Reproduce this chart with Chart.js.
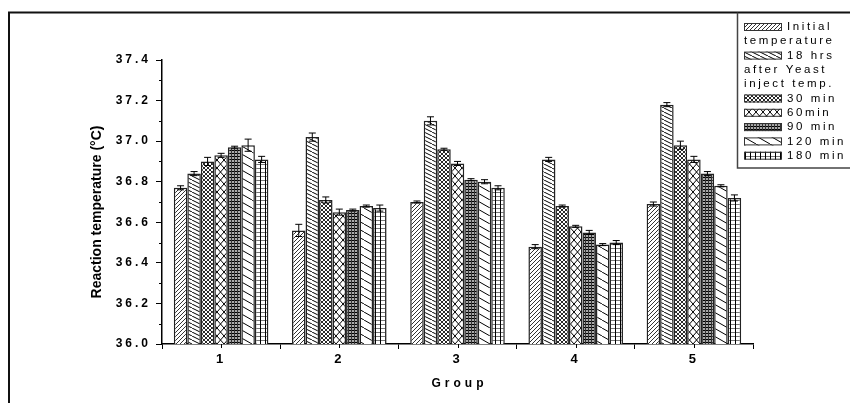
<!DOCTYPE html>
<html>
<head>
    <title>Reaction temperature by group</title>
    <script src="https://cdn.jsdelivr.net/npm/chart.js"></script>
    <style>
        body {
            margin: 0;
            background-color: #fff;
        }
        #wrap {
            width: 850px;
            height: 403px;
        }
    </style>
</head>
<body>
    <div id="wrap"><canvas id="myChart" width="850" height="403"></canvas></div>

    <script>
        // Data
        const groups = ['1', '2', '3', '4', '5'];
        const initialTemp = [36.77, 36.56, 36.70, 36.48, 36.69];
        const after18hrs  = [36.84, 37.02, 37.10, 36.91, 37.18];
        const min30  = [36.90, 36.71, 36.96, 36.68, 36.98];
        const min60  = [36.93, 36.65, 36.89, 36.58, 36.91];
        const min90  = [36.97, 36.66, 36.81, 36.55, 36.84];
        const min120 = [36.98, 36.68, 36.80, 36.49, 36.78];
        const min180 = [36.91, 36.67, 36.77, 36.50, 36.72];

        // error bars (+/-)
        const errInitial = [0.01, 0.03, 0.005, 0.01, 0.01];
        const err18hrs   = [0.01, 0.02, 0.02, 0.01, 0.01];
        const err30  = [0.02, 0.015, 0.005, 0.005, 0.02];
        const err60  = [0.01, 0.015, 0.01, 0.005, 0.015];
        const err90  = [0.005, 0.005, 0.005, 0.01, 0.01];
        const err120 = [0.03, 0.005, 0.01, 0.005, 0.005];
        const err180 = [0.015, 0.015, 0.01, 0.01, 0.015];

        const yTicks = [36.0, 36.2, 36.4, 36.6, 36.8, 37.0, 37.2, 37.4];

        const legendLabels = [
            ['Initial', 'temperature'],
            ['18 hrs', 'after Yeast', 'inject temp.'],
            ['30 min'],
            ['60min'],
            ['90 min'],
            ['120 min'],
            ['180 min']
        ];

        const FONT = "'Liberation Sans', Arial, sans-serif";
        const ctx = document.getElementById('myChart').getContext('2d');

        // hatch patterns, one per series
        function makePattern(w, h, bg, drawFn) {
            const c = document.createElement('canvas');
            c.width = w; c.height = h;
            const g = c.getContext('2d');
            g.fillStyle = bg;
            g.fillRect(0, 0, w, h);
            drawFn(g, w, h);
            return ctx.createPattern(c, 'repeat');
        }
        function slash(g, w, h, color, lw) {      // "/"
            g.strokeStyle = color; g.lineWidth = lw;
            for (let k = -1; k <= 1; k++) {
                g.beginPath(); g.moveTo(k * w, h); g.lineTo(k * w + w, 0); g.stroke();
            }
        }
        function backslash(g, w, h, color, lw) {  // "\"
            g.strokeStyle = color; g.lineWidth = lw;
            for (let k = -1; k <= 1; k++) {
                g.beginPath(); g.moveTo(k * w, 0); g.lineTo(k * w + w, h); g.stroke();
            }
        }

        const patterns = [
            makePattern(4, 4, '#fff', (g, w, h) => slash(g, w, h, '#333', 1)),
            makePattern(8, 4, '#fff', (g, w, h) => backslash(g, w, h, '#000', 1)),
            makePattern(4, 4, '#fff', (g, w, h) => { slash(g, w, h, '#111', 0.9); backslash(g, w, h, '#111', 0.9); }),
            makePattern(7, 8, '#fff', (g, w, h) => { slash(g, w, h, '#000', 1); backslash(g, w, h, '#000', 1); }),
            makePattern(3, 3, '#aaa', (g) => {
                g.fillStyle = '#000';
                g.fillRect(0, 0, 3, 1);
                g.fillStyle = '#333';
                g.fillRect(0, 0, 1, 3);
            }),
            makePattern(14, 8, '#fff', (g, w, h) => backslash(g, w, h, '#000', 1)),
            makePattern(5, 4, '#fff', (g) => {
                g.fillStyle = '#777';
                g.fillRect(0, 0, 5, 1);
                g.fillStyle = '#000';
                g.fillRect(0, 0, 1, 4);
            })
        ];

        const seriesValues = [initialTemp, after18hrs, min30, min60, min90, min120, min180];
        const seriesErrors = [errInitial, err18hrs, err30, err60, err90, err120, err180];

        const datasets = seriesValues.map((vals, i) => ({
            label: legendLabels[i].join(' '),
            data: vals,
            errors: seriesErrors[i],
            backgroundColor: patterns[i],
            borderColor: '#222',
            borderWidth: 1.5,
            categoryPercentage: 0.8,
            barPercentage: 1.0
        }));

        // letter-spaced axis text, then normal for bars
        const spacingPlugin = {
            id: 'spacing',
            beforeDraw(chart) { chart.ctx.letterSpacing = '3px'; },
            beforeDatasetsDraw(chart) { chart.ctx.letterSpacing = '0px'; }
        };

        const errorBars = {
            id: 'errorBars',
            afterDatasetsDraw(chart) {
                const c = chart.ctx;
                const y = chart.scales.y;
                c.save();
                c.strokeStyle = '#000';
                c.lineWidth = 1;
                chart.data.datasets.forEach((ds, di) => {
                    const meta = chart.getDatasetMeta(di);
                    meta.data.forEach((bar, j) => {
                        const v = ds.data[j], e = ds.errors[j];
                        const top = y.getPixelForValue(v + e);
                        const bot = y.getPixelForValue(v - e);
                        c.beginPath();
                        c.moveTo(bar.x, top); c.lineTo(bar.x, bot);
                        c.moveTo(bar.x - 3.5, top); c.lineTo(bar.x + 3.5, top);
                        c.moveTo(bar.x - 3.5, bot); c.lineTo(bar.x + 3.5, bot);
                        c.stroke();
                    });
                });
                c.restore();
            }
        };

        // minor ticks, centre ticks, titles, legend box and outer frame
        const decorations = {
            id: 'decorations',
            afterDraw(chart) {
                const c = chart.ctx;
                const x = chart.scales.x, y = chart.scales.y;
                const area = chart.chartArea;
                c.save();
                c.letterSpacing = '0px';
                c.strokeStyle = '#000';
                c.lineWidth = 1;
                // minor y ticks
                for (let i = 0; i < yTicks.length - 1; i++) {
                    const py = Math.round(y.getPixelForValue((yTicks[i] + yTicks[i + 1]) / 2)) + 0.5;
                    c.beginPath(); c.moveTo(area.left - 3, py); c.lineTo(area.left, py); c.stroke();
                }
                // ticks at group centres
                groups.forEach((g, i) => {
                    const px = Math.round(x.getPixelForValue(i)) + 0.5;
                    c.beginPath(); c.moveTo(px, area.bottom); c.lineTo(px, area.bottom + 4); c.stroke();
                });

                // axis titles
                c.fillStyle = '#000';
                c.textAlign = 'center';
                c.textBaseline = 'middle';
                c.font = 'bold 14px ' + FONT;
                c.save();
                c.translate(97, 212);
                c.rotate(-Math.PI / 2);
                c.fillText('Reaction temperature (°C)', 0, 0);
                c.restore();
                c.font = 'bold 12px ' + FONT;
                c.letterSpacing = '4px';
                c.fillText('Group', (area.left + area.right) / 2 + 2, 384);
                c.letterSpacing = '0px';

                // outer frame
                c.strokeStyle = '#111';
                c.lineWidth = 2;
                c.beginPath();
                c.moveTo(9, 403); c.lineTo(9, 12.5); c.lineTo(850, 12.5);
                c.stroke();

                // legend box
                c.strokeStyle = '#444';
                c.lineWidth = 1.5;
                c.beginPath();
                c.moveTo(737.5, 12.5); c.lineTo(737.5, 168); c.lineTo(850, 168);
                c.stroke();

                c.font = '11.5px ' + FONT;
                c.textAlign = 'left';
                c.letterSpacing = '2.6px';
                let row = 0;
                legendLabels.forEach((lines, i) => {
                    lines.forEach((txt, k) => {
                        const ry = 27 + row * 14.3;
                        if (k === 0) {
                            c.fillStyle = patterns[i];
                            c.fillRect(744, ry - 4, 38, 8);
                            c.strokeStyle = '#333';
                            c.lineWidth = 1;
                            c.strokeRect(744.5, ry - 3.5, 37, 7);
                            c.fillStyle = '#000';
                            c.fillText(txt, 787, ry);
                        } else {
                            c.fillStyle = '#000';
                            c.fillText(txt, 744, ry);
                        }
                        row++;
                    });
                });
                c.restore();
            }
        };

        const myChart = new Chart(ctx, {
            type: 'bar',
            data: {
                labels: groups,
                datasets: datasets
            },
            options: {
                responsive: false,
                animation: false,
                layout: {
                    padding: { left: 0, right: 97, top: 60, bottom: 0 }
                },
                plugins: {
                    legend: { display: false },
                    tooltip: { enabled: false }
                },
                scales: {
                    x: {
                        afterFit(scale) { scale.height = 59; },
                        grid: {
                            offset: true,
                            drawOnChartArea: false,
                            drawTicks: true,
                            tickLength: 5,
                            color: '#000'
                        },
                        border: { color: '#000', width: 1.5 },
                        ticks: {
                            color: '#000',
                            padding: 3,
                            font: { family: FONT, size: 13, weight: 'bold' }
                        }
                    },
                    y: {
                        min: 36.0,
                        max: 37.4,
                        afterFit(scale) { scale.width = 162; },
                        afterBuildTicks(scale) {
                            scale.ticks = yTicks.map(v => ({ value: v }));
                        },
                        grid: {
                            drawOnChartArea: false,
                            drawTicks: true,
                            tickLength: 6,
                            color: '#000'
                        },
                        border: { color: '#000', width: 1.5 },
                        ticks: {
                            color: '#000',
                            padding: 5,
                            font: { family: FONT, size: 12, weight: 'bold' },
                            callback: (v) => Number(v).toFixed(1)
                        }
                    }
                }
            },
            plugins: [spacingPlugin, errorBars, decorations]
        });
    </script>
</body>
</html>
